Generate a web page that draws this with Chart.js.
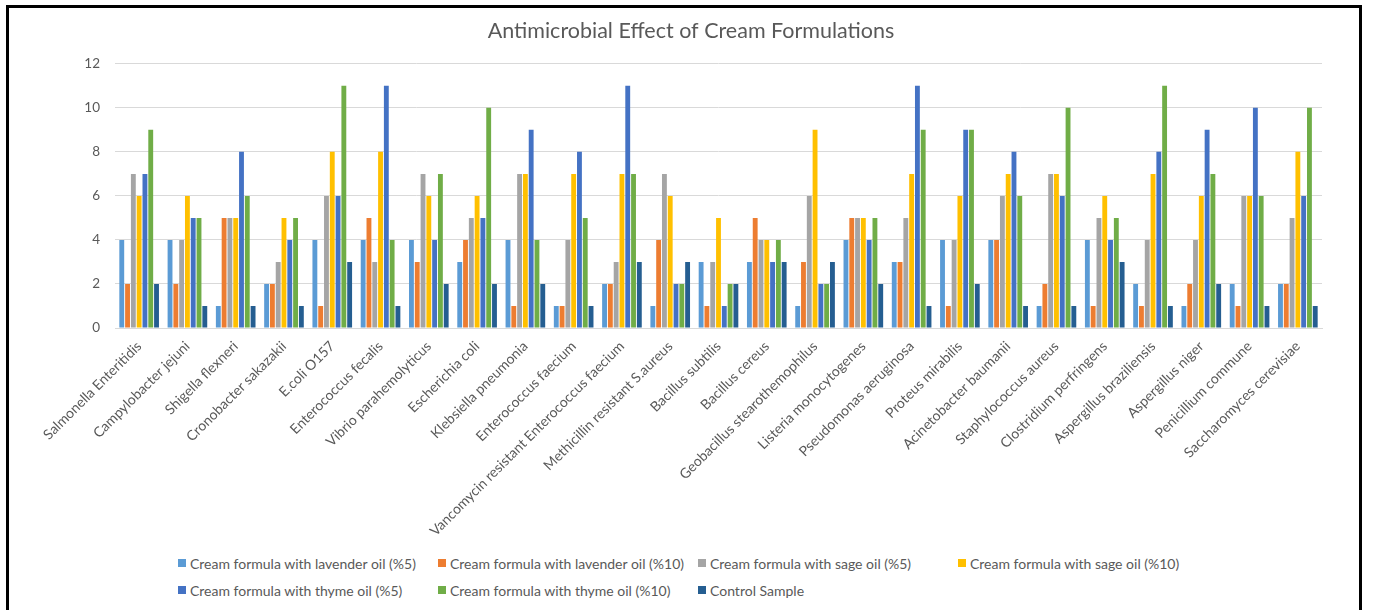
<!DOCTYPE html>
<html>
<head>
<meta charset="utf-8">
<title>Antimicrobial Effect of Cream Formulations</title>
<script src="https://cdn.jsdelivr.net/npm/chart.js@4.4.1/dist/chart.umd.min.js"></script>
<style>
    html, body {
        margin: 0;
        padding: 0;
        background: #fff;
        font-family: Lato, "Open Sans", sans-serif;
    }
    .frame {
        position: absolute;
        left: 6px;
        top: 5px;
        width: 1356px;
        height: 620px;
        border: 3px solid #000;
        border-bottom: none;
        box-sizing: border-box;
    }
    .chart-box {
        position: absolute;
        left: 0;
        top: 0;
        width: 1375px;
        height: 545px;
    }
    .legend {
        position: absolute;
        left: 178px;
        top: 554px;
        display: grid;
        grid-template-columns: repeat(4, 260px);
        row-gap: 9px;
        font-size: 14px;
        color: #595959;
    }
    .legend-item {
        display: flex;
        align-items: center;
        height: 18px;
        white-space: nowrap;
    }
    .legend-item span.box {
        display: inline-block;
        width: 8px;
        height: 8px;
        margin-right: 4px;
    }
</style>
</head>
<body>
<div class="frame"></div>
<div class="chart-box"><canvas id="effectChart" width="1375" height="545"></canvas></div>
<div class="legend" id="effectLegend"></div>

<script>
const organisms = [
    'Salmonella Enteritidis', 'Campylobacter jejuni', 'Shigella flexneri', 'Cronobacter sakazakii',
    'E.coli O157', 'Enterococcus fecalis', 'Vibrio parahemolyticus', 'Escherichia coli',
    'Klebsiella pneumonia', 'Enterococcus faecium', 'Vancomycin resistant Enterococcus faecium',
    'Methicillin resistant S.aureus', 'Bacillus subtilis', 'Bacillus cereus',
    'Geobacillus stearothemophilus', 'Listeria monocytogenes', 'Pseudomonas aeruginosa',
    'Proteus mirabilis', 'Acinetobacter baumanii', 'Staphylococcus aureus',
    'Clostridium perfringens', 'Aspergillus braziliensis', 'Aspergillus niger',
    'Penicillium commune', 'Saccharomyces cerevisiae'
];

const lavender5  = [4, 4, 1, 2, 4, 4, 4, 3, 4, 1, 2, 1, 3, 3, 1, 4, 3, 4, 4, 1, 4, 2, 1, 2, 2];
const lavender10 = [2, 2, 5, 2, 1, 5, 3, 4, 1, 1, 2, 4, 1, 5, 3, 5, 3, 1, 4, 2, 1, 1, 2, 1, 2];
const sage5      = [7, 4, 5, 3, 6, 3, 7, 5, 7, 4, 3, 7, 3, 4, 6, 5, 5, 4, 6, 7, 5, 4, 4, 6, 5];
const sage10     = [6, 6, 5, 5, 8, 8, 6, 6, 7, 7, 7, 6, 5, 4, 9, 5, 7, 6, 7, 7, 6, 7, 6, 6, 8];
const thyme5     = [7, 5, 8, 4, 6, 11, 4, 5, 9, 8, 11, 2, 1, 3, 2, 4, 11, 9, 8, 6, 4, 8, 9, 10, 6];
const thyme10    = [9, 5, 6, 5, 11, 4, 7, 10, 4, 5, 7, 2, 2, 4, 2, 5, 9, 9, 6, 10, 5, 11, 7, 6, 10];
const control    = [2, 1, 1, 1, 3, 1, 2, 2, 2, 1, 3, 3, 2, 3, 3, 2, 1, 2, 1, 1, 3, 1, 2, 1, 1];

const yTicks = [0, 2, 4, 6, 8, 10, 12];

const seriesNames = [
    'Cream formula with lavender oil (%5)',
    'Cream formula with lavender oil (%10)',
    'Cream formula with sage oil (%5)',
    'Cream formula with sage oil (%10)',
    'Cream formula with thyme oil (%5)',
    'Cream formula with thyme oil (%10)',
    'Control Sample'
];
const seriesValues = [lavender5, lavender10, sage5, sage10, thyme5, thyme10, control];
const seriesColors = ['#5B9BD5', '#ED7D31', '#A5A5A5', '#FFC000', '#4472C4', '#70AD47', '#255E91'];

const textColor = '#595959';
const gridColor = '#D9D9D9';

document.addEventListener('DOMContentLoaded', function() {
    const chart = buildChart();
    buildLegend(chart);
});

function buildChart() {
    const ctx = document.getElementById('effectChart').getContext('2d');
    return new Chart(ctx, {
        type: 'bar',
        data: {
            labels: organisms,
            datasets: seriesNames.map((name, i) => ({
                label: name,
                data: seriesValues[i],
                backgroundColor: seriesColors[i],
                borderWidth: 0,
                categoryPercentage: 0.84,
                barPercentage: 0.84
            }))
        },
        options: {
            responsive: false,
            animation: false,
            layout: {
                padding: { left: 60, right: 53, top: 9, bottom: 0 }
            },
            plugins: {
                legend: { display: false },
                tooltip: { enabled: false },
                title: {
                    display: true,
                    text: 'Antimicrobial Effect of Cream Formulations',
                    color: textColor,
                    font: { family: 'Lato', size: 21.5, weight: 'normal' },
                    padding: { top: 9, bottom: 20 }
                }
            },
            scales: {
                x: {
                    border: { color: gridColor },
                    grid: { display: false },
                    ticks: {
                        color: textColor,
                        font: { family: 'Lato', size: 14 },
                        autoSkip: false,
                        minRotation: 45,
                        maxRotation: 45,
                        padding: 2
                    },
                    afterFit: function(scale) {
                        scale.height = 217;
                    }
                },
                y: {
                    min: 0,
                    max: 12,
                    border: { display: false },
                    grid: { color: gridColor, drawTicks: false },
                    afterBuildTicks: function(scale) {
                        scale.ticks = yTicks.map(v => ({ value: v }));
                    },
                    ticks: {
                        color: textColor,
                        font: { family: 'Lato', size: 13.5 },
                        padding: 15
                    },
                    afterFit: function(scale) {
                        scale.width = 55;
                    }
                }
            }
        }
    });
}

function buildLegend(chart) {
    const legend = document.getElementById('effectLegend');
    legend.innerHTML = chart.data.datasets.map(ds => `
        <div class="legend-item">
            <span class="box" style="background:${ds.backgroundColor}"></span>${ds.label}
        </div>
    `).join('');
}
</script>
</body>
</html>
